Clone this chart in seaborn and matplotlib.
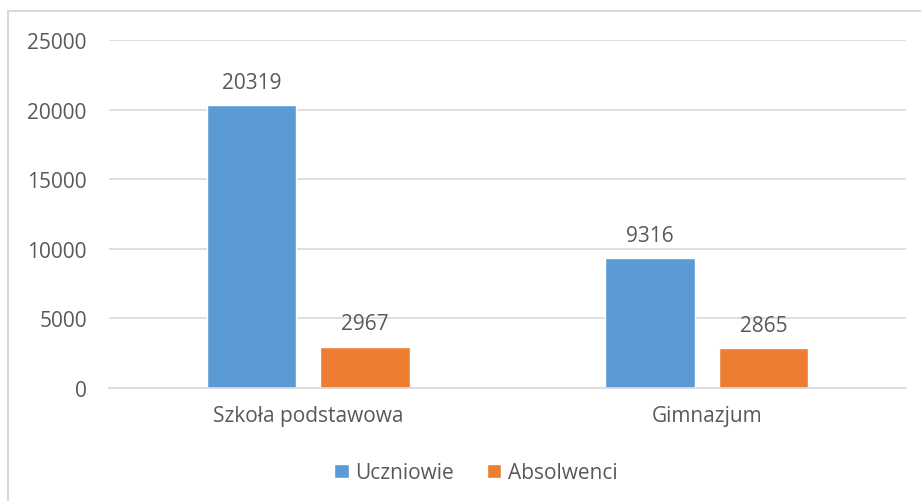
import pandas as pd
import matplotlib.pyplot as plt
import seaborn as sns
from matplotlib.patches import Rectangle

# dane
kategorie = ['Szkoła podstawowa', 'Gimnazjum']
uczniowie = [20319, 9316]
absolwenci = [2967, 2865]
serie = ['Uczniowie', 'Absolwenci']
kolory = ['#5B9BD5', '#ED7D31']
yticks = [0, 5000, 10000, 15000, 20000, 25000]

df = pd.DataFrame({
    'szkola': kategorie * 2,
    'seria': [serie[0]] * 2 + [serie[1]] * 2,
    'liczba': uczniowie + absolwenci,
})

sns.set_style("white")
plt.rcParams['font.family'] = ['Open Sans', 'DejaVu Sans']
txt = '#595959'

fig = plt.figure(figsize=(9.21, 5.02), dpi=100)
ax = fig.add_axes([109 / 921, 113 / 502, 797 / 921, 348 / 502])

sns.barplot(data=df, x='szkola', y='liczba', hue='seria', palette=kolory,
            width=0.57, gap=0.21, ax=ax, legend=True, saturation=1)

ax.set_ylim(0, 25000)
ax.set_xlim(-0.5, 1.5)
ax.set_yticks(yticks)
ax.set_yticklabels([str(v) for v in yticks])
ax.yaxis.grid(True, color='#D9D9D9', linewidth=1.2)
ax.set_axisbelow(True)
for s in ['top', 'right', 'left']:
    ax.spines[s].set_visible(False)
ax.spines['bottom'].set_color('#D9D9D9')
ax.spines['bottom'].set_linewidth(1.2)
ax.tick_params(axis='both', length=0, labelsize=15, colors=txt, pad=12)
ax.tick_params(axis='y', pad=16)
ax.set_xlabel('')
ax.set_ylabel('')

for cont in ax.containers:
    ax.bar_label(cont, fmt='%d', padding=9, fontsize=15, color=txt)

ax.legend(loc='upper center', bbox_to_anchor=(0.46, -0.16), ncol=2, frameon=False,
          fontsize=15, labelcolor=txt, handlelength=0.7, handleheight=0.7,
          handletextpad=0.3, columnspacing=1.6)

fig.patches.append(Rectangle((8 / 921, -0.1), 1.1, (502 - 12) / 502 + 0.1,
                             transform=fig.transFigure, fill=False,
                             edgecolor='#D9D9D9', linewidth=1.5))

fig.savefig('out.png', dpi=100)
